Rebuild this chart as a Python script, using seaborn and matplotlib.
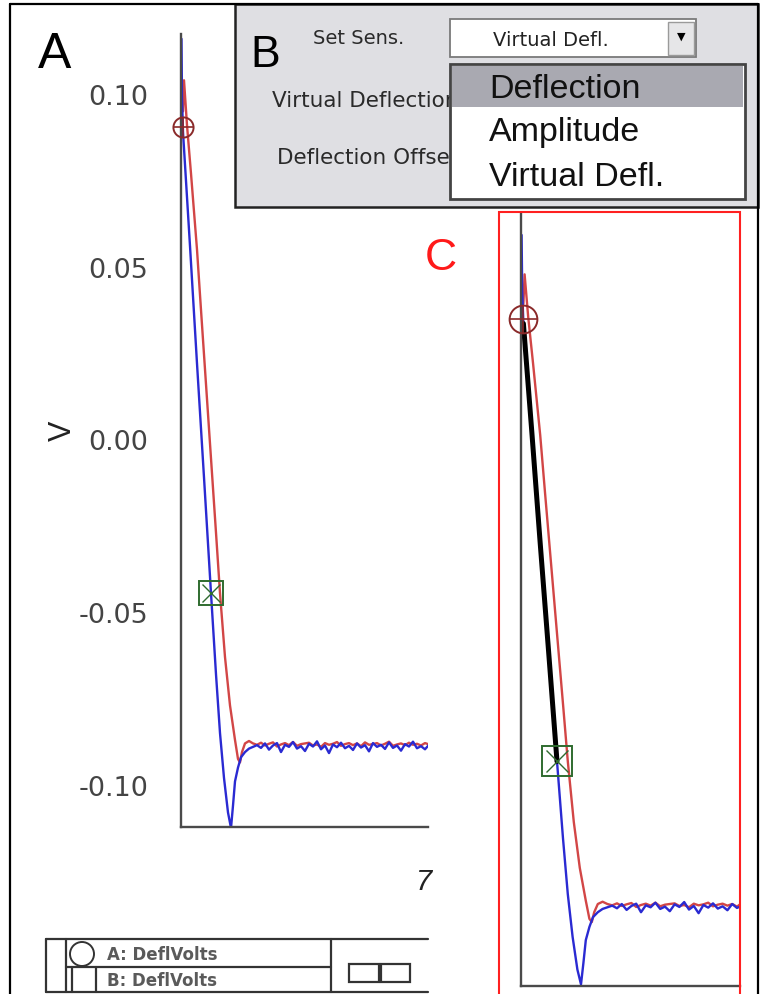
import numpy as np
import pandas as pd
import matplotlib
matplotlib.use("Agg")
import matplotlib.pyplot as plt
from matplotlib.patches import Rectangle, Ellipse
from matplotlib.lines import Line2D
import seaborn as sns

# ---------------- data ----------------
blue_t = [0.5, 1, 2, 9, 16, 23, 30, 35, 39, 43, 47, 50, 52, 54, 57, 60, 64, 68]
blue_v = [0.116, 0.099, 0.089, 0.056, 0.022, -0.011, -0.0445, -0.068, -0.085, -0.098,
          -0.108, -0.1125, -0.106, -0.099, -0.095, -0.092, -0.0905, -0.0895]
red_t = [2, 3, 6, 10, 16, 20, 25, 30, 35, 39, 44, 49, 54, 57, 59, 61, 64, 68]
red_v = [0.095, 0.104, 0.091, 0.077, 0.055, 0.0375, 0.016, -0.0055, -0.027, -0.0445,
         -0.063, -0.077, -0.087, -0.0925, -0.0935, -0.0905, -0.088, -0.0873]
plateau_t = list(range(72, 249, 4))
blue_plateau = [-0.0890, -0.0885, -0.0893, -0.0880, -0.0898, -0.0886, -0.0879, -0.0905, -0.0884,
                -0.0890, -0.0876, -0.0895, -0.0888, -0.0902, -0.0881, -0.0889, -0.0874, -0.0897,
                -0.0886, -0.0908, -0.0883, -0.0891, -0.0878, -0.0894, -0.0887, -0.0899, -0.0880,
                -0.0892, -0.0885, -0.0903, -0.0879, -0.0890, -0.0884, -0.0896, -0.0877, -0.0893,
                -0.0886, -0.0901, -0.0882, -0.0889, -0.0875, -0.0894, -0.0888, -0.0897, -0.0884]
red_plateau = [-0.0880, -0.0884, -0.0878, -0.0886, -0.0881, -0.0877, -0.0889, -0.0883, -0.0879,
               -0.0885, -0.0876, -0.0887, -0.0882, -0.0880, -0.0878, -0.0886, -0.0883, -0.0890,
               -0.0879, -0.0884, -0.0881, -0.0876, -0.0887, -0.0882, -0.0879, -0.0885, -0.0880,
               -0.0888, -0.0877, -0.0884, -0.0882, -0.0879, -0.0886, -0.0881, -0.0875, -0.0887,
               -0.0883, -0.0880, -0.0885, -0.0878, -0.0884, -0.0881, -0.0886, -0.0879, -0.0883]
cursor_a = (1.5, 0.0905)      # circle cursor
cursor_b = (30.0, -0.0445)    # square cursor
fit_range = (2, 31)           # black highlighted segment in panel C
yticks = [-0.10, -0.05, 0.00, 0.05, 0.10]
ytick_labels = ["-0.10", "-0.05", "0.00", "0.05", "0.10"]
dropdown_items = ["Deflection", "Amplitude", "Virtual Defl."]
legend_items = ["A: DeflVolts", "B: DeflVolts"]

BLUE = "#2a2ad2"
RED = "#d24646"
CUR_RED = "#8a2a2a"
CUR_GREEN = "#2f6b2f"

df = pd.concat([
    pd.DataFrame({"t": red_t + plateau_t, "v": red_v + red_plateau, "trace": "red"}),
    pd.DataFrame({"t": blue_t + plateau_t, "v": blue_v + blue_plateau, "trace": "blue"}),
], ignore_index=True)
fit_df = df[(df.trace == "blue") & (df.t >= fit_range[0]) & (df.t <= fit_range[1])]

# ---------------- figure ----------------
sns.set_style("white")
plt.rcParams["font.family"] = ["Liberation Sans", "DejaVu Sans"]

W, H = 766, 995
fig = plt.figure(figsize=(W / 100, H / 100), dpi=100)
fig.patch.set_facecolor("white")


def fx(x):
    return x / W


def fy(y):
    return 1 - y / H


def add_rect(x0, y0, x1, y1, **kw):
    r = Rectangle((fx(x0), fy(y1)), (x1 - x0) / W, (y1 - y0) / H,
                  transform=fig.transFigure, **kw)
    fig.add_artist(r)
    return r


def add_line(xs, ys, **kw):
    ln = Line2D([fx(x) for x in xs], [fy(y) for y in ys], transform=fig.transFigure, **kw)
    fig.add_artist(ln)
    return ln


def draw_panel(ax, xmax, ylo, yhi, circ_size, sq_size, show_labels, fit=False):
    sns.lineplot(data=df, x="t", y="v", hue="trace", palette={"red": RED, "blue": BLUE},
                 estimator=None, sort=False, legend=False, ax=ax, linewidth=1.7)
    if fit:
        sns.lineplot(data=fit_df, x="t", y="v", color="black", estimator=None,
                     sort=False, legend=False, ax=ax, linewidth=3.6)
    ax.plot([cursor_a[0]], [cursor_a[1]], marker="o", ms=circ_size, mfc="none",
            mec=CUR_RED, mew=1.4, ls="none", zorder=5, clip_on=False)
    ax.plot([cursor_a[0]], [cursor_a[1]], marker="+", ms=circ_size, mec=CUR_RED,
            mew=1.2, ls="none", zorder=5, clip_on=False)
    ax.plot([cursor_b[0]], [cursor_b[1]], marker="s", ms=sq_size, mfc="none",
            mec=CUR_GREEN, mew=1.4, ls="none", zorder=5, clip_on=False)
    ax.plot([cursor_b[0]], [cursor_b[1]], marker="x", ms=sq_size * 0.75, mec=CUR_GREEN,
            mew=1.0, ls="none", zorder=5, clip_on=False)
    ax.set_xlim(0, xmax)
    ax.set_ylim(ylo, yhi)
    ax.set_facecolor("none")
    sns.despine(ax=ax)
    for s in ("left", "bottom"):
        ax.spines[s].set_color("#4a4a4a")
        ax.spines[s].set_linewidth(1.7)
    ax.set_xticks([])
    ax.set_yticks(yticks)
    if show_labels:
        ax.set_yticklabels(ytick_labels, fontsize=19.5, color="#444444", family="DejaVu Sans")
    else:
        ax.set_yticklabels([])
    ax.tick_params(axis="y", direction="out", length=16.5 if show_labels else 15.8,
                   width=1.7, color="#4a4a4a", pad=7)
    ax.set_xlabel("")
    ax.set_ylabel("")


# Panel A
axA = fig.add_axes([fx(181), fy(828), (428 - 181) / W, (828 - 35) / H])
draw_panel(axA, 247, -0.1122, 0.1174, 14.5, 17, True)
fig.text(fx(63), fy(431), "V", rotation=90, fontsize=22, ha="center", va="center", color="#222222")
fig.text(fx(416), fy(890), "7", fontsize=21, style="italic", color="#222222", va="baseline")

# Panel C
axC = fig.add_axes([fx(521), fy(987), (740 - 521) / W, (987 - 215) / H])
draw_panel(axC, 182.5, -0.113, 0.1224, 20, 21, False, fit=True)
add_rect(499, 213, 740, 1010, fill=False, edgecolor="#ff2020", linewidth=1.5, zorder=20)

# Outer frame
add_line([10, 10], [5, 1000], color="black", linewidth=1.6, zorder=30)
add_line([10, 758], [5, 5], color="black", linewidth=1.6, zorder=30)
add_line([758, 758], [5, 1000], color="black", linewidth=1.6, zorder=30)

# Panel B (dialog)
UI = "DejaVu Sans"
add_rect(235, 5, 758, 208, facecolor="#dfdfe3", edgecolor="#222222", linewidth=1.8, zorder=10)
fig.text(fx(272), fy(101), "Virtual Deflection", fontsize=15.5, family=UI, va="center",
         color="#2a2a2a", zorder=11)
fig.text(fx(277), fy(158), "Deflection Offset", fontsize=15.5, family=UI, va="center",
         color="#2a2a2a", zorder=11)
fig.text(fx(313), fy(38), "Set Sens.", fontsize=14, family=UI, va="center", color="#2a2a2a", zorder=11)
add_rect(450, 20, 696, 58, facecolor="white", edgecolor="#7a7a7a", linewidth=1.3, zorder=12)
add_rect(668, 23, 694, 56, facecolor="#e6e6e8", edgecolor="#9a9a9a", linewidth=1.0, zorder=13)
fig.text(fx(681), fy(37), "\u25bc", fontsize=8, ha="center", va="center", color="black",
         family="DejaVu Sans", zorder=14)
fig.text(fx(551), fy(41), dropdown_items[2], fontsize=14, family=UI, ha="center", va="center",
         color="#222222", zorder=13)
add_rect(450, 65, 745, 200, facecolor="white", edgecolor="#444444", linewidth=2.0, zorder=15)
add_rect(452, 67, 743, 108, facecolor="#a9a9b1", edgecolor="none", zorder=16)
for item, yc in zip(dropdown_items, [89, 133, 177]):
    fig.text(fx(489), fy(yc), item, fontsize=24.5, va="center", color="#111111", zorder=17)
fig.text(fx(250), fy(67), "B", fontsize=32, va="baseline", color="black", zorder=17)

# Panel letters
fig.text(fx(38), fy(68), "A", fontsize=36, va="baseline", color="black")
fig.text(fx(441), fy(259), "C", fontsize=32, ha="center", va="center", color="#ff1a1a")

# Bottom legend box
lc = "#333333"
add_line([46, 428], [940, 940], color=lc, linewidth=1.6)
add_line([46, 428], [993, 993], color=lc, linewidth=1.6)
add_line([46, 46], [940, 993], color=lc, linewidth=1.6)
add_line([66, 66], [940, 993], color=lc, linewidth=1.6)
add_line([331, 331], [940, 993], color=lc, linewidth=1.6)
add_line([66, 331], [968, 968], color=lc, linewidth=1.6)
add_line([72, 72], [968, 993], color=lc, linewidth=1.6)
add_line([96, 96], [968, 993], color=lc, linewidth=1.6)
fig.add_artist(Ellipse((fx(82), fy(955)), 24 / W, 24 / H, transform=fig.transFigure,
                       fill=False, edgecolor=lc, linewidth=1.4))
for lab, yc in zip(legend_items, [955, 981]):
    fig.text(fx(107), fy(yc), lab, fontsize=12, family=UI, fontweight="bold", va="center",
             color="#5a5a5a")
add_rect(349, 965, 379, 983, fill=False, edgecolor=lc, linewidth=1.6)
add_rect(381, 965, 410, 983, fill=False, edgecolor=lc, linewidth=1.6)

fig.savefig("out.png", dpi=100)
